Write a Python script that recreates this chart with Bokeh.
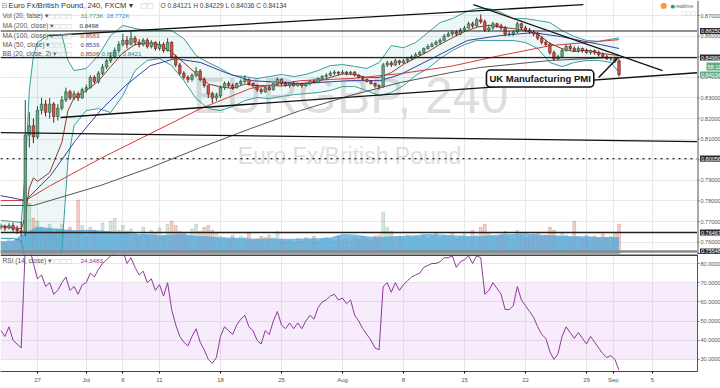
from bokeh.plotting import figure
from bokeh.models import (Range1d, FixedTicker, NumeralTickFormatter, Label, BoxAnnotation, Span)
from bokeh.layouts import column, row
from bokeh.embed import file_html
from bokeh.resources import INLINE
from bokeh.core.properties import value

FONT = "Liberation Sans"

# ---------------- data ----------------
first_day = -3.0          # trading-day index of first bar (0 = Mon 27 Jun)
bar_step = 1.0 / 3.0      # one bar = 8 hours of trading
first_open = 0.7670

closes = [
    0.7675, 0.7668, 0.7680, 0.7662, 0.7655, 0.7648,
    0.8120, 0.8165, 0.8110,
    0.8240, 0.8270, 0.8230, 0.8270, 0.8210, 0.8250, 0.8290, 0.8330, 0.8300, 0.8320, 0.8300, 0.8340,
    0.8350, 0.8400, 0.8380, 0.8420, 0.8450, 0.8480, 0.8500, 0.8530, 0.8560,
    0.8580, 0.8560, 0.8590, 0.8570, 0.8560, 0.8580, 0.8550, 0.8570, 0.8540, 0.8560, 0.8530, 0.8570,
    0.8500, 0.8460, 0.8420, 0.8400, 0.8390, 0.8410, 0.8430, 0.8390, 0.8360, 0.8320, 0.8300, 0.8310,
    0.8350, 0.8370, 0.8360, 0.8350, 0.8370, 0.8380, 0.8390, 0.8370, 0.8360, 0.8340, 0.8330, 0.8350,
    0.8340, 0.8370, 0.8390, 0.8370, 0.8360, 0.8370, 0.8360, 0.8370, 0.8360, 0.8370, 0.8380, 0.8375,
    0.8395, 0.8405, 0.8410, 0.8420, 0.8425, 0.8420, 0.8425, 0.8420, 0.8425, 0.8410, 0.8400, 0.8390,
    0.8380, 0.8370, 0.8360, 0.8355, 0.8460, 0.8470, 0.8460, 0.8480, 0.8470, 0.8480, 0.8490, 0.8500,
    0.8510, 0.8520, 0.8540, 0.8550, 0.8560, 0.8570, 0.8580, 0.8600, 0.8610, 0.8620, 0.8610, 0.8630,
    0.8640, 0.8660, 0.8650, 0.8680, 0.8670, 0.8630, 0.8640, 0.8660, 0.8650, 0.8640, 0.8610, 0.8610,
    0.8620, 0.8660, 0.8640, 0.8630, 0.8620, 0.8610, 0.8590, 0.8570, 0.8560, 0.8520, 0.8490, 0.8500,
    0.8530, 0.8550, 0.8540, 0.8530, 0.8540, 0.8530, 0.8520, 0.8530, 0.8520, 0.8510, 0.8500, 0.8490,
    0.8490, 0.8480, 0.8413,
]
highs = [
    0.7690, 0.7685, 0.7692, 0.7695, 0.7680, 0.7700,
    0.8290, 0.8230, 0.8200,
    0.8260, 0.8300, 0.8290, 0.8300, 0.8280, 0.8270, 0.8310, 0.8350, 0.8340, 0.8335, 0.8330, 0.8350,
    0.8365, 0.8410, 0.8410, 0.8430, 0.8465, 0.8490, 0.8520, 0.8545, 0.8575,
    0.8610, 0.8600, 0.8625, 0.8600, 0.8585, 0.8590, 0.8590, 0.8580, 0.8575, 0.8575, 0.8570, 0.8590,
    0.8575, 0.8510, 0.8470, 0.8430, 0.8410, 0.8420, 0.8450, 0.8440, 0.8400, 0.8365, 0.8330, 0.8325,
    0.8360, 0.8380, 0.8380, 0.8370, 0.8375, 0.8390, 0.8410, 0.8395, 0.8375, 0.8365, 0.8350, 0.8355,
    0.8360, 0.8375, 0.8400, 0.8395, 0.8380, 0.8375, 0.8380, 0.8375, 0.8375, 0.8375, 0.8385, 0.8390,
    0.8400, 0.8410, 0.8420, 0.8430, 0.8435, 0.8430, 0.8435, 0.8430, 0.8430, 0.8430, 0.8415, 0.8405,
    0.8395, 0.8385, 0.8375, 0.8365, 0.8470, 0.8480, 0.8480, 0.8490, 0.8485, 0.8490, 0.8495, 0.8510,
    0.8520, 0.8530, 0.8545, 0.8560, 0.8570, 0.8580, 0.8590, 0.8610, 0.8620, 0.8630, 0.8630, 0.8640,
    0.8650, 0.8670, 0.8670, 0.8690, 0.8705, 0.8680, 0.8655, 0.8670, 0.8665, 0.8660, 0.8650, 0.8625,
    0.8630, 0.8670, 0.8665, 0.8650, 0.8640, 0.8630, 0.8620, 0.8600, 0.8580, 0.8570, 0.8530, 0.8510,
    0.8540, 0.8560, 0.8560, 0.8550, 0.8550, 0.8545, 0.8540, 0.8535, 0.8535, 0.8530, 0.8520, 0.8510,
    0.8500, 0.8500, 0.8490,
]
lows = [
    0.7660, 0.7655, 0.7662, 0.7650, 0.7640, 0.7630,
    0.7630, 0.8060, 0.8080,
    0.8100, 0.8220, 0.8210, 0.8200, 0.8180, 0.8190, 0.8240, 0.8280, 0.8290, 0.8290, 0.8285, 0.8295,
    0.8325, 0.8345, 0.8370, 0.8370, 0.8410, 0.8440, 0.8470, 0.8490, 0.8520,
    0.8550, 0.8540, 0.8555, 0.8555, 0.8545, 0.8550, 0.8540, 0.8540, 0.8530, 0.8530, 0.8520, 0.8525,
    0.8490, 0.8450, 0.8410, 0.8390, 0.8375, 0.8380, 0.8400, 0.8380, 0.8350, 0.8300, 0.8275, 0.8285,
    0.8300, 0.8340, 0.8350, 0.8340, 0.8345, 0.8360, 0.8370, 0.8360, 0.8350, 0.8330, 0.8320, 0.8325,
    0.8335, 0.8335, 0.8360, 0.8360, 0.8355, 0.8350, 0.8355, 0.8355, 0.8350, 0.8355, 0.8360, 0.8370,
    0.8370, 0.8390, 0.8395, 0.8405, 0.8410, 0.8410, 0.8415, 0.8410, 0.8410, 0.8405, 0.8395, 0.8385,
    0.8375, 0.8365, 0.8350, 0.8340, 0.8350, 0.8450, 0.8450, 0.8455, 0.8460, 0.8465, 0.8470, 0.8485,
    0.8495, 0.8505, 0.8515, 0.8535, 0.8545, 0.8555, 0.8560, 0.8575, 0.8595, 0.8600, 0.8600, 0.8605,
    0.8620, 0.8635, 0.8640, 0.8645, 0.8660, 0.8620, 0.8620, 0.8630, 0.8640, 0.8630, 0.8600, 0.8600,
    0.8600, 0.8615, 0.8630, 0.8620, 0.8610, 0.8600, 0.8580, 0.8560, 0.8550, 0.8510, 0.8480, 0.8485,
    0.8495, 0.8525, 0.8530, 0.8525, 0.8520, 0.8520, 0.8515, 0.8510, 0.8510, 0.8500, 0.8495, 0.8485,
    0.8480, 0.8470, 0.8404,
]
volumes_k = [
    22, 18, 25, 20, 24, 30,
    95, 85, 60,
    55, 45, 40, 50, 35, 42, 50, 38, 45, 40, 90, 48,
    30, 45, 40, 35, 52, 38, 55, 60, 40,
    48, 38, 42, 35, 30, 45, 32, 40, 35, 44, 30, 50,
    55, 48, 38, 35, 30, 42, 50, 38, 45, 48, 40, 35,
    30, 28, 25, 32, 26, 30, 28, 35, 24, 26, 30, 28, 32, 27, 38, 25, 22,
    24, 20, 26, 22, 28, 24, 30, 22, 26, 28, 25, 22, 30, 24, 26, 22, 28, 25, 30, 27, 24, 30, 32,
    70, 45, 38,
    28, 30, 26, 32, 28, 30, 27, 33, 26, 30, 35, 28, 32, 30, 36, 26, 30, 34, 28, 40, 32, 45,
    50,
    35, 30, 28, 33, 38, 30, 26, 40, 32, 28, 30, 34, 36, 30, 32,
    45, 40, 30, 35, 32, 28, 55, 30, 26, 32, 28, 30, 26, 34, 28, 30, 36, 50,
]
rsi_vals = [
    45, 42, 47, 40, 38, 36,
    88, 89, 80,
    72, 74, 68, 70, 64, 66, 70, 73, 66, 68, 64, 69,
    70, 75, 73, 77, 80, 82, 84, 85, 86,
    87, 80, 83, 78, 74, 76,
    70, 72, 66, 69, 63, 70,
    56, 48, 42, 39, 37, 42,
    46, 39, 35, 30, 28, 31,
    42, 47, 45, 43, 48, 51,
    53, 47, 45, 40, 38, 45,
    43, 50, 55, 48, 46, 49,
    46, 49, 46, 50, 53, 51,
    57, 60, 61, 63, 64, 61,
    62, 59, 61, 53, 50, 46,
    43, 40, 36, 35,
    68, 70, 65, 70, 66, 69,
    71, 73, 74, 75, 78, 79,
    80, 80, 81, 83, 83, 84,
    78, 81, 82, 84, 80, 84, 83,
    64, 66, 70, 67, 64, 56,
    56, 58, 68, 61, 58, 55,
    52, 47, 43, 41, 34, 30,
    33, 42, 47, 44, 41, 44,
    41, 38, 42, 39, 36, 33,
    31, 32, 30, 24.35,
]

# indicators (trading-day position, value)
ma200_d = [-3.03, -0.33, 5.16, 9.26, 13.36, 17.46, 21.56, 25.66, 29.75, 33.85, 36.31, 42.05, 47.67]
ma200_v = [0.7778, 0.7778, 0.7875, 0.7962, 0.8059, 0.8151, 0.8239, 0.8312, 0.8375, 0.8423, 0.8448, 0.8482, 0.8498]
ma100_d = [-3.03, -0.98, 1.07, 5.16, 9.26, 13.36, 17.46, 21.56, 25.66, 29.75, 33.85, 37.95, 42.05, 47.67]
ma100_v = [0.7802, 0.7802, 0.7875, 0.8006, 0.8127, 0.8248, 0.8346, 0.8384, 0.8394, 0.8418, 0.8453, 0.8506, 0.8554, 0.8583]
ma50_d = [-3.03, -0.98, 1.07, 3.11, 5.16, 7.21, 9.26, 11.31, 13.36, 15.41, 17.46, 21.56, 25.66, 28.11,
          29.75, 35.25, 37.95, 40.66, 42.87, 46.15, 47.67]
ma50_v = [0.7826, 0.7802, 0.7923, 0.8093, 0.8239, 0.8360, 0.8457, 0.8491, 0.8472, 0.8423, 0.8384, 0.8370,
          0.8384, 0.8384, 0.8414, 0.8579, 0.8603, 0.8617, 0.8598, 0.8559, 0.8540]
bb_d = [-3, -2, -1.33, -1, -0.67, -0.33, 0, 1, 2, 2.5] + list(range(3, 48)) + [47.67]
bb_upper = [0.7705, 0.7700, 0.7695, 0.7948, 0.8336, 0.8506, 0.8569, 0.8608, 0.8608, 0.8482,
            0.8433, 0.8443, 0.8506, 0.8603, 0.8652, 0.8637, 0.8627, 0.8627, 0.8627, 0.8588,
            0.8506, 0.8472, 0.8443, 0.8409, 0.8404, 0.8394, 0.8404, 0.8414, 0.8404, 0.8414,
            0.8433, 0.8457, 0.8462, 0.8453, 0.8443, 0.8472, 0.8554, 0.8544, 0.8569, 0.8617,
            0.8666, 0.8685, 0.8715, 0.8734, 0.8734, 0.8715, 0.8685, 0.8685, 0.8676, 0.8666,
            0.8627, 0.8598, 0.8579, 0.8575, 0.8585, 0.8591]
bb_lower = [0.7618, 0.7618, 0.7608, 0.7501, 0.7389, 0.7317, 0.7220, 0.7268, 0.7559, 0.7996,
            0.8166, 0.8239, 0.8248, 0.8229, 0.8312, 0.8433, 0.8482, 0.8491, 0.8457, 0.8384,
            0.8297, 0.8248, 0.8239, 0.8258, 0.8287, 0.8302, 0.8297, 0.8307, 0.8316, 0.8321,
            0.8326, 0.8336, 0.8355, 0.8355, 0.8336, 0.8312, 0.8326, 0.8360, 0.8409, 0.8443,
            0.8491, 0.8530, 0.8559, 0.8579, 0.8579, 0.8579, 0.8579, 0.8569, 0.8540, 0.8472,
            0.8452, 0.8472, 0.8482, 0.8482, 0.8472, 0.8423]
bb_basis = [0.7680, 0.7670, 0.7665, 0.7725, 0.7863, 0.7912, 0.7895, 0.7938, 0.8084, 0.8239,
            0.8300, 0.8335, 0.8382, 0.8452, 0.8519, 0.8559, 0.8567, 0.8559, 0.8522, 0.8471,
            0.8418, 0.8368, 0.8354, 0.8346, 0.8367, 0.8360, 0.8360, 0.8358, 0.8366, 0.8368,
            0.8380, 0.8400, 0.8416, 0.8415, 0.8398, 0.8399, 0.8423, 0.8463, 0.8494, 0.8524,
            0.8560, 0.8592, 0.8622, 0.8643, 0.8653, 0.8643, 0.8637, 0.8627, 0.8611, 0.8565,
            0.8539, 0.8525, 0.8532, 0.8519, 0.8510, 0.8506]
volma_d = list(range(-3, 48)) + [47.67]
volma_k = [22, 23, 36, 46, 44, 42, 40, 41, 40, 38, 36, 34, 34, 32, 33, 34, 31, 30, 28, 28, 27, 26, 27, 26,
           26, 27, 27, 28, 34, 33, 30, 29, 30, 31, 32, 34, 33, 32, 31, 30, 32, 33, 34, 35, 33, 32, 31, 30,
           30, 29, 29, 28.8]

# drawn trend lines (start day, start price, end day, end price)
trend_lines = [
    (0.90, 0.8603, 44.75, 0.8753),
    (1.89, 0.8205, 54.26, 0.8423),
    (35.74, 0.8753, 51.23, 0.8433),
    (-3.03, 0.8132, 54.26, 0.8088),
]
level_prices = [0.86250, 0.84960, 0.80056, 0.76467, 0.75548]
level_texts = ["0.86250", "0.84960", "0.80056", "0.76467", "0.75548"]
level_styles = ["solid", "solid", "dotted", "solid", "solid"]
level_colors = ["#222222", "#222222", "#222222", "#222222", "#8a8a8a"]
level_widths = [1.2, 1.2, 1.2, 1.5, 2.5]
last_price = 0.84134
last_text = "0.84134"
countdown = "58:11"
callout_text = "UK Manufacturing PMI"
callout_at = (41.2, 0.8394)
callout_arrow_d = [46.0, 47.6]
callout_arrow_p = [0.8399, 0.8496]

tick_days = [0, 4, 7, 10, 15, 20, 25, 30, 35, 40, 45, 47.2, 50.4]
tick_labels = ["27", "Jul", "6", "11", "18", "25", "Aug", "8", "15", "22", "29", "Sep", "5"]
price_ticks = [0.76, 0.77, 0.78, 0.79, 0.80, 0.81, 0.82, 0.83, 0.84, 0.85, 0.86, 0.87]
rsi_ticks = [30, 40, 50, 60, 70, 80]

assert len(closes) == len(highs) == len(lows) == len(volumes_k) == len(rsi_vals) == 153
assert len(bb_d) == len(bb_upper) == len(bb_lower) == len(bb_basis)
assert len(volma_d) == len(volma_k)

# ---------------- layout ----------------
FW, HP, HR, SW = 697, 254, 117, 23
X_RANGE = Range1d(-3.03, 54.1)
Y_PRICE = Range1d(0.7540, 0.8773)

n = len(closes)
xs = [first_day + k * bar_step for k in range(n)]
opens = [first_open] + closes[:-1]
up = [c >= o for o, c in zip(opens, closes)]
body_col = ["#6ba583" if u else "#d75442" for u in up]
edge_col = ["#225437" if u else "#5b1a13" for u in up]


def base_fig(fw, fh, xr, yr, **kw):
    f = figure(frame_width=fw, frame_height=fh, x_range=xr, y_range=yr, toolbar_location=None,
               output_backend="svg", min_border_left=0, min_border_right=0, min_border_top=0,
               min_border_bottom=0, **kw)
    f.outline_line_color = None
    f.background_fill_color = "white"
    f.border_fill_color = "white"
    return f


# ---------------- price pane ----------------
p = base_fig(FW, HP, X_RANGE, Y_PRICE, x_axis_location=None, y_axis_location=None)
p.xgrid.grid_line_color = "#e9e9e9"
p.ygrid.grid_line_color = "#e9e9e9"
p.xgrid.ticker = FixedTicker(ticks=tick_days)
p.ygrid.ticker = FixedTicker(ticks=price_ticks)

# watermark
p.add_layout(Label(x=350, y=HP - 95, x_units="screen", y_units="screen", text="EURGBP, 240",
                   text_font=FONT, text_font_size="50px", text_color="#dedede", text_align="center",
                   text_baseline="middle", level="underlay"))
p.add_layout(Label(x=349, y=HP - 155, x_units="screen", y_units="screen",
                   text="Euro Fx/British Pound", text_font=FONT, text_font_size="23px",
                   text_color="#dedede", text_align="center", text_baseline="middle", level="underlay"))

# volume
p.extra_y_ranges = {"vol": Range1d(0, 420)}
p.vbar(x=xs, top=volumes_k, bottom=0, width=bar_step * 0.7, color=body_col, alpha=0.28, y_range_name="vol")
p.varea(x=volma_d, y1=[0] * len(volma_k), y2=volma_k, fill_color="#4aa3dc", fill_alpha=0.72, y_range_name="vol")

# Bollinger bands
p.varea(x=bb_d, y1=bb_lower, y2=bb_upper, fill_color="#2a9d9a", fill_alpha=0.08)
p.line(bb_d, bb_upper, line_color="#3c9c9a", line_width=1)
p.line(bb_d, bb_lower, line_color="#3c9c9a", line_width=1)
p.line(bb_d, bb_basis, line_color="#8b3a2e", line_width=1)
# moving averages
p.line(ma200_d, ma200_v, line_color="#555555", line_width=1)
p.line(ma100_d, ma100_v, line_color="#d63c3c", line_width=1)
p.line(ma50_d, ma50_v, line_color="#3a3f9a", line_width=1)

# candles
p.segment(x0=xs, y0=lows, x1=xs, y1=highs, line_color=edge_col, line_width=1)
p.vbar(x=xs, top=[max(o, c) for o, c in zip(opens, closes)], bottom=[min(o, c) for o, c in zip(opens, closes)],
       width=bar_step * 0.62, fill_color=body_col, line_color=edge_col, line_width=0.6)

# drawings
for lp, ls, lc, lw in zip(level_prices, level_styles, level_colors, level_widths):
    p.add_layout(Span(location=lp, dimension="width", line_color=lc, line_dash=ls, line_width=lw))
for (d0, p0, d1, p1) in trend_lines:
    p.line([d0, d1], [p0, p1], line_color="#111111", line_width=1.3)
p.line(callout_arrow_d, callout_arrow_p, line_color="#111111", line_width=1.5)
p.add_layout(Label(x=callout_at[0], y=callout_at[1], text=callout_text, text_font=FONT,
                   text_font_size="9.5px", text_font_style="bold", text_color="#111111",
                   text_align="center", text_baseline="middle", background_fill_color="white",
                   border_line_color="#111111", border_line_width=1.6, border_radius=4, padding=3))


def hdr(fig, H, xr, yr, text, color, size="6.5px", font=FONT):
    fig.add_layout(Label(x=xr, y=H - yr, x_units="screen", y_units="screen", text=text,
                         text_font=font, text_font_size=size, text_color=color,
                         text_align="left", text_baseline="middle"))


hdr(p, HP, 1, 5, "\u229f", "#888888", "7px", "DejaVu Sans")
hdr(p, HP, 8, 5, "Euro Fx/British Pound, 240, FXCM \u25be", "#333333", "7.7px")
hdr(p, HP, 140, 5, "\u25a1\u25a1", "#c4c4c4", "7px", "DejaVu Sans")
hdr(p, HP, 160, 5, "O 0.84121  H 0.84229  L 0.84036  C 0.84134", "#444444", "6.6px")
rows = [
    (15, "Vol (20, false) \u25be", [(80, "31.773K", "#3d9a62"), (106, "28.772K", "#2e8fd0")]),
    (25, "MA (200, close) \u25be", [(79, "0.8498", "#333333")]),
    (35, "MA (100, close) \u25be", [(80, "0.8583", "#d63c3c")]),
    (44, "MA (50, close) \u25be", [(80, "0.8539", "#3a3f9a")]),
    (53, "BB (20, close, 2) \u25be", [(80, "0.8506", "#8b3a2e"), (101, "0.8591", "#2a8f8c"),
                                     (122, "0.8421", "#2a8f8c")]),
]
for yr, name, vals in rows:
    hdr(p, HP, 2, yr, name, "#555555", "6.6px")
    hdr(p, HP, 48, yr, "\u25a1\u25a1\u25a1\u25a1", "#c8c8c8", "6.2px", "DejaVu Sans")
    for xr, t, c in vals:
        hdr(p, HP, xr, yr, t, c, "6.2px")
hdr(p, HP, 660, 5, "\u25cf", "#f39c32", "8px", "DejaVu Sans")
hdr(p, HP, 670, 5.5, "\u25cf", "#3a9a5e", "5px", "DejaVu Sans")
hdr(p, HP, 675, 5.5, "realtime", "#666666", "5px")
hdr(p, HP, 681, 12.5, "\u25a1\u25a1\u25a1", "#c8c8c8", "5px", "DejaVu Sans")

# ---------------- price scale (narrow pane sharing the price y-range) ----------------
s = base_fig(SW, HP, Range1d(0, SW), Y_PRICE, x_axis_location=None, y_axis_location=None)
s.xgrid.visible = False
s.ygrid.visible = False
s.add_layout(Span(location=0, dimension="height", line_color="#555555", line_width=2))
s.add_layout(Span(location=Y_PRICE.start, dimension="width", line_color="#444444", line_width=3))
s.segment(x0=[0] * len(price_ticks), y0=price_ticks, x1=[2] * len(price_ticks), y1=price_ticks,
          line_color="#777777", line_width=1)
s.text(x=[3] * len(price_ticks), y=price_ticks, text=["%.5f" % t for t in price_ticks],
       text_font=value(FONT), text_font_size="5.5px", text_color="#555555", text_baseline="middle")
badge_y = level_prices + [last_price, last_price]
badge_t = level_texts + [last_text, countdown]
badge_bg = ["#2b2b2b"] * len(level_prices) + ["#5fae80", "#5fae80"]
badge_x = [2.5] * (len(level_prices) + 1) + [9]
badge_off = [0] * (len(level_prices) + 1) + [-8]
s.text(x=badge_x, y=badge_y, text=badge_t, y_offset=badge_off, text_font=value(FONT),
       text_font_size="5.5px", text_color="white", text_baseline="middle",
       background_fill_color=badge_bg, padding=1)

# ---------------- RSI ----------------
r = base_fig(FW, HR, X_RANGE, Range1d(23.7, 84.7), y_axis_location="right")
r.xgrid.grid_line_color = "#e9e9e9"
r.ygrid.grid_line_color = "#e9e9e9"
r.xaxis.ticker = FixedTicker(ticks=tick_days)
r.yaxis.ticker = FixedTicker(ticks=rsi_ticks)
r.yaxis.formatter = NumeralTickFormatter(format="0.0000")
r.yaxis.major_label_text_font_size = "5.5px"
r.yaxis.major_label_text_font = FONT
r.yaxis.major_label_text_color = "#555555"
r.yaxis.major_tick_out = 2
r.yaxis.major_tick_in = 0
r.yaxis.major_tick_line_color = "#777777"
r.yaxis.minor_tick_line_color = None
r.yaxis.major_label_standoff = 1
r.yaxis.axis_line_color = "#555555"
r.xaxis.major_label_overrides = {t: lab for t, lab in zip(tick_days, tick_labels)}
r.xaxis.major_label_text_font_size = "6px"
r.xaxis.major_label_text_font = FONT
r.xaxis.major_label_text_color = "#555555"
r.xaxis.major_tick_out = 2
r.xaxis.major_tick_in = 0
r.xaxis.minor_tick_line_color = None
r.xaxis.major_label_standoff = 3
r.xaxis.axis_line_color = "#444444"
r.add_layout(Span(location=84.7, dimension="width", line_color="#444444", line_width=3))
r.add_layout(BoxAnnotation(bottom=30, top=70, fill_color="#9c27e0", fill_alpha=0.09, line_color=None,
                           level="underlay"))
r.line(xs, rsi_vals, line_color="#8e3a9a", line_width=1)
hdr(r, HR, 2, 6, "RSI (14, close) \u25be", "#555555", "6.6px")
hdr(r, HR, 48, 6, "\u25a1\u25a1\u25a1\u25a1", "#c8c8c8", "6.2px", "DejaVu Sans")
hdr(r, HR, 80, 6, "24.3483", "#8e3a9a", "6.2px")

layout = column(row(p, s, spacing=0), r, spacing=0)
open("out.html", "w").write(file_html(layout, INLINE))
